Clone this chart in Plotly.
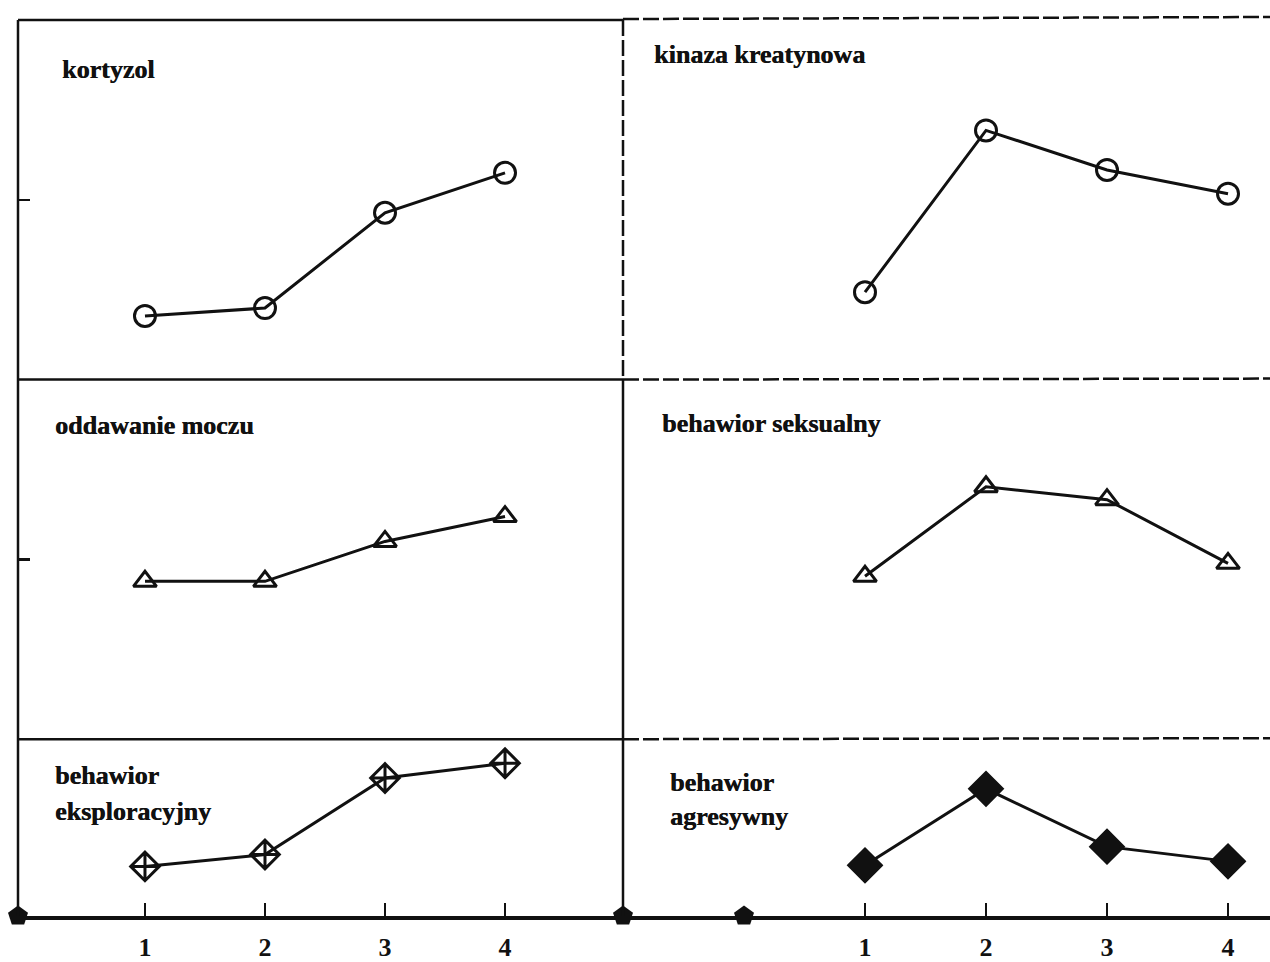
import plotly.graph_objects as go

# ---------------- data (arbitrary units) ----------------
x_vals = [1, 2, 3, 4]
kortyzol = [1.77, 1.99, 4.64, 5.75]
kinaza = [2.43, 6.93, 5.83, 5.17]
oddawanie = [4.39, 4.39, 5.50, 6.19]
seksualny = [4.53, 7.02, 6.66, 4.89]
eksploracyjny = [1.38, 1.71, 3.84, 4.25]
agresywny = [1.41, 3.54, 1.93, 1.52]
tick_labels = ["1", "2", "3", "4"]
origin_left = [-0.058]
origin_right = [-1.0, 0.0]

# ---------------- layout geometry ----------------
W, H = 1270, 962
L, R, T, B = 18, 0, 20, 40
PW, PH = W - L - R, H - T - B
def px(x):
    return (x - L) / PW
def py(y):
    return (H - B - y) / PH

xsplit = px(623)
row_dom = [[py(382), 1.0], [py(744), py(382)], [0.0, py(744)]]
col_dom = [[0.0, xsplit], [xsplit, 1.0]]
col_range = [[-0.058, 4.983], [-1.0, 4.347]]
row_range = [[0, 10], [0, 10], [0, 4.92]]

BLK = "#111111"
serif = "Liberation Serif"

fig = go.Figure()

panels = [
    (0, 0, kortyzol, "circle-open"),
    (0, 1, kinaza, "circle-open"),
    (1, 0, oddawanie, "triangle-up-open"),
    (1, 1, seksualny, "triangle-up-open"),
    (2, 0, eksploracyjny, "diamond-cross-open"),
    (2, 1, agresywny, "diamond"),
]
msize = {"circle-open": 21, "triangle-up-open": 20, "diamond-cross-open": 22, "diamond": 25}

layout_axes = {}
for i, (r, c, vals, sym) in enumerate(panels, start=1):
    xa = "x" if i == 1 else f"x{i}"
    ya = "y" if i == 1 else f"y{i}"
    fig.add_trace(go.Scatter(
        x=x_vals, y=vals, xaxis=xa, yaxis=ya, mode="lines+markers",
        line=dict(color=BLK, width=3),
        marker=dict(symbol=sym, size=msize[sym], color=BLK,
                    line=dict(color=BLK, width=3)),
        cliponaxis=False, showlegend=False, hoverinfo="skip"))
    bottom = (r == 2)
    xkey = "xaxis" if i == 1 else f"xaxis{i}"
    ykey = "yaxis" if i == 1 else f"yaxis{i}"
    layout_axes[xkey] = dict(
        domain=col_dom[c], range=col_range[c], anchor=ya,
        showgrid=False, zeroline=False, fixedrange=True,
        showline=bottom, linecolor=BLK, linewidth=4,
        tickmode="array", tickvals=x_vals if bottom else [],
        ticktext=tick_labels if bottom else [],
        ticks="inside" if bottom else "", ticklen=13, tickwidth=2, tickcolor=BLK,
        showticklabels=bottom, ticklabelstandoff=5,
        tickfont=dict(family=serif, size=26, color=BLK, weight="bold"))
    layout_axes[ykey] = dict(
        domain=row_dom[r], range=row_range[r], anchor=xa,
        showgrid=False, zeroline=False, fixedrange=True, showline=False,
        tickmode="array", tickvals=[5] if (c == 0 and r < 2) else [],
        ticks="inside" if (c == 0 and r < 2) else "", ticklen=12, tickwidth=2.5,
        tickcolor=BLK, showticklabels=False)

# origin marks on the bottom axis
fig.add_trace(go.Scatter(x=origin_left, y=[0] * len(origin_left), xaxis="x5", yaxis="y5",
                         mode="markers", cliponaxis=False, showlegend=False, hoverinfo="skip",
                         marker=dict(symbol="pentagon", size=21, color=BLK)))
fig.add_trace(go.Scatter(x=origin_right, y=[0] * len(origin_right), xaxis="x6", yaxis="y6",
                         mode="markers", cliponaxis=False, showlegend=False, hoverinfo="skip",
                         marker=dict(symbol="pentagon", size=21, color=BLK)))

# frame lines
shapes = []
def seg(x0, y0, x1, y1, dash="solid", w=2.5):
    shapes.append(dict(type="line", xref="paper", yref="paper",
                       x0=px(x0), y0=py(y0), x1=px(x1), y1=py(y1),
                       line=dict(color=BLK, width=w, dash=dash)))
seg(18, 20, 623, 20, "solid", 2.5)
seg(623, 19, 1270, 17, "16px,4px", 2.5)
seg(18, 20, 18, 922, "solid", 2.5)
seg(623, 20, 623, 382, "16px,4px", 2.5)
seg(623, 382, 623, 922, "solid", 2.5)
seg(18, 382, 623, 382, "solid", 2.5)
seg(623, 382, 1270, 381, "16px,4px", 2.5)
seg(18, 744, 623, 744, "solid", 2.5)
seg(623, 744, 1270, 743, "16px,4px", 2.5)

# panel labels
ann = []
def label(text, x, y):
    ann.append(dict(text=text, xref="paper", yref="paper", x=px(x), y=py(y),
                    xanchor="left", yanchor="middle", showarrow=False,
                    font=dict(family=serif, size=26, color=BLK, weight="bold",
                              shadow="0.5px 0px 0px #111111")))
label("kortyzol", 60, 70)
label("kinaza kreatynowa", 652, 55)
label("oddawanie moczu", 53, 428)
label("behawior seksualny", 660, 426)
label("behawior", 53, 781)
label("eksploracyjny", 53, 817)
label("behawior", 668, 788)
label("agresywny", 668, 822)

fig.update_layout(
    width=W, height=H,
    margin=dict(l=L, r=R, t=T, b=B),
    paper_bgcolor="white", plot_bgcolor="rgba(0,0,0,0)",
    shapes=shapes, annotations=ann, **layout_axes)

fig.write_html(
    "out.html",
    config={"displayModeBar": False, "staticPlot": True},
    post_script="document.body.style.margin='0';document.body.style.overflow='hidden';")
